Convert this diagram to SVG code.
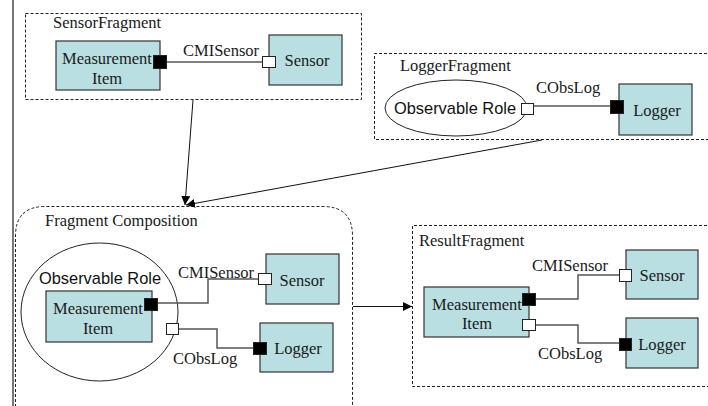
<svg xmlns="http://www.w3.org/2000/svg" width="708" height="406" viewBox="0 0 708 406">
  <style>
    .frame { fill: none; stroke: #222; stroke-width: 1; stroke-dasharray: 3 2; }
    .comp { fill: #b9dfe2; stroke: #333; stroke-width: 1.2; }
    .role { fill: #fff; stroke: #222; stroke-width: 1; }
    .role-in { fill: none; stroke: #222; stroke-width: 1; }
    .pin { fill: #000; stroke: #222; stroke-width: 1; }
    .pout { fill: #fff; stroke: #222; stroke-width: 1; }
    .wire { fill: none; stroke: #555; stroke-width: 1.5; }
    .flow { fill: none; stroke: #111; stroke-width: 1; marker-end: url(#tip); }
    .t { font-family: "Liberation Serif", "Times New Roman", serif; font-size: 16.5px; fill: #1a1a1a; }
    .tc { font-family: "Liberation Serif", "Times New Roman", serif; font-size: 16.5px; fill: #1a1a1a; text-anchor: middle; }
    .ts { font-family: "Liberation Sans", Arial, sans-serif; font-size: 16.4px; fill: #111; text-anchor: middle; }
  </style>
  <defs>
    <marker id="tip" viewBox="0 0 10 10" refX="10" refY="5" markerWidth="9" markerHeight="9" markerUnits="userSpaceOnUse" orient="auto">
      <path d="M0,0 L10,5 L0,10 z" fill="#000"/>
    </marker>
  </defs>

  <rect width="708" height="406" fill="#fff"/>
  <!-- page margin rule -->
  <line x1="13" y1="0" x2="13" y2="406" stroke="#777" stroke-width="2"/>

  <!-- SensorFragment -->
  <g id="sensorFragment">
    <rect class="frame" x="25.5" y="13.5" width="336" height="86"/>
    <text class="t" x="53" y="28">SensorFragment</text>
    <g id="sf-measurement">
      <rect class="comp" x="56" y="41" width="104" height="49"/>
      <text class="tc" x="107" y="64">Measurement<tspan x="107" dy="20">Item</tspan></text>
    </g>
    <g id="sf-sensor">
      <rect class="comp" x="269" y="35" width="73" height="50"/>
      <text class="tc" x="307" y="66">Sensor</text>
    </g>
  </g>

  <!-- LoggerFragment -->
  <g id="loggerFragment">
    <path class="frame" d="M712,53.5 H374.5 V139.5 H712"/>
    <text class="t" x="400" y="71">LoggerFragment</text>
    <g id="lf-role">
      <ellipse class="role" cx="456" cy="108" rx="71" ry="28"/>
      <text class="ts" x="455" y="114">Observable Role</text>
    </g>
    <g id="lf-logger">
      <rect class="comp" x="619" y="84" width="73" height="51"/>
      <text class="tc" x="657" y="116">Logger</text>
    </g>
  </g>

  <!-- Fragment Composition -->
  <g id="fragmentComposition">
    <path class="frame" d="M15.5,412 V236 Q15.5,206.5 45,206.5 H323 Q352.5,206.5 352.5,236 V412"/>
    <text class="t" x="45" y="226">Fragment Composition</text>
    <g id="fc-role">
      <ellipse class="role-in" cx="99.5" cy="312" rx="78.5" ry="69"/>
      <text class="ts" x="100" y="284">Observable Role</text>
    </g>
    <g id="fc-measurement">
      <rect class="comp" x="46" y="291" width="106" height="51"/>
      <text class="tc" x="98" y="314">Measurement<tspan x="98" dy="20">Item</tspan></text>
    </g>
    <g id="fc-sensor">
      <rect class="comp" x="266" y="254" width="73" height="50"/>
      <text class="tc" x="302" y="286">Sensor</text>
    </g>
    <g id="fc-logger">
      <rect class="comp" x="260" y="323" width="73" height="49"/>
      <text class="tc" x="298" y="354">Logger</text>
    </g>
  </g>

  <!-- ResultFragment -->
  <g id="resultFragment">
    <path class="frame" d="M712,225.5 H412.5 V386.5 H712"/>
    <text class="t" x="419" y="246">ResultFragment</text>
    <g id="rf-measurement">
      <rect class="comp" x="424" y="287" width="105" height="50"/>
      <text class="tc" x="477" y="310">Measurement<tspan x="477" dy="19">Item</tspan></text>
    </g>
    <g id="rf-sensor">
      <rect class="comp" x="626" y="250" width="72" height="49"/>
      <text class="tc" x="662" y="281">Sensor</text>
    </g>
    <g id="rf-logger">
      <rect class="comp" x="626" y="318" width="72" height="50"/>
      <text class="tc" x="662" y="350">Logger</text>
    </g>
  </g>

  <!-- connectors, ports and their labels -->
  <g id="connectors">
    <!-- SensorFragment: CMISensor -->
    <line class="wire" x1="166" y1="62" x2="263" y2="62"/>
    <rect class="pin" x="153.5" y="55.5" width="13" height="13"/>
    <rect class="pout" x="262.5" y="56.5" width="13" height="11"/>
    <text class="t" x="183" y="56">CMISensor</text>

    <!-- LoggerFragment: CObsLog -->
    <line class="wire" x1="534" y1="106" x2="611" y2="106"/>
    <rect class="pout" x="521.5" y="103.5" width="12" height="11"/>
    <rect class="pin" x="610.5" y="100.5" width="13" height="13"/>
    <text class="t" x="536" y="93">CObsLog</text>

    <!-- Fragment Composition -->
    <polyline class="wire" points="158,303 208,303 208,279 258,279"/>
    <rect class="pin" x="144.5" y="298.5" width="13" height="12"/>
    <rect class="pout" x="258.5" y="273.5" width="13" height="11"/>
    <text class="t" x="178" y="278">CMISensor</text>
    <polyline class="wire" points="179,329 217,329 217,348 253,348"/>
    <rect class="pout" x="166.5" y="323.5" width="12" height="11"/>
    <rect class="pin" x="253.5" y="342.5" width="13" height="12"/>
    <text class="t" x="173" y="364">CObsLog</text>

    <!-- ResultFragment -->
    <polyline class="wire" points="536,299 578,299 578,275 619,275"/>
    <rect class="pin" x="522.5" y="293.5" width="13" height="12"/>
    <rect class="pout" x="619.5" y="269.5" width="12" height="12"/>
    <text class="t" x="532" y="271">CMISensor</text>
    <polyline class="wire" points="536,325 578,325 578,343 619,343"/>
    <rect class="pout" x="522.5" y="319.5" width="13" height="11"/>
    <rect class="pin" x="619.5" y="338.5" width="12" height="12"/>
    <text class="t" x="538" y="359">CObsLog</text>

    <!-- composition flow -->
    <line class="flow" x1="193" y1="100" x2="185" y2="205"/>
    <line class="flow" x1="542" y1="140" x2="186" y2="205"/>
    <line class="flow" x1="353" y1="306.5" x2="412" y2="306.5"/>
  </g>
</svg>
